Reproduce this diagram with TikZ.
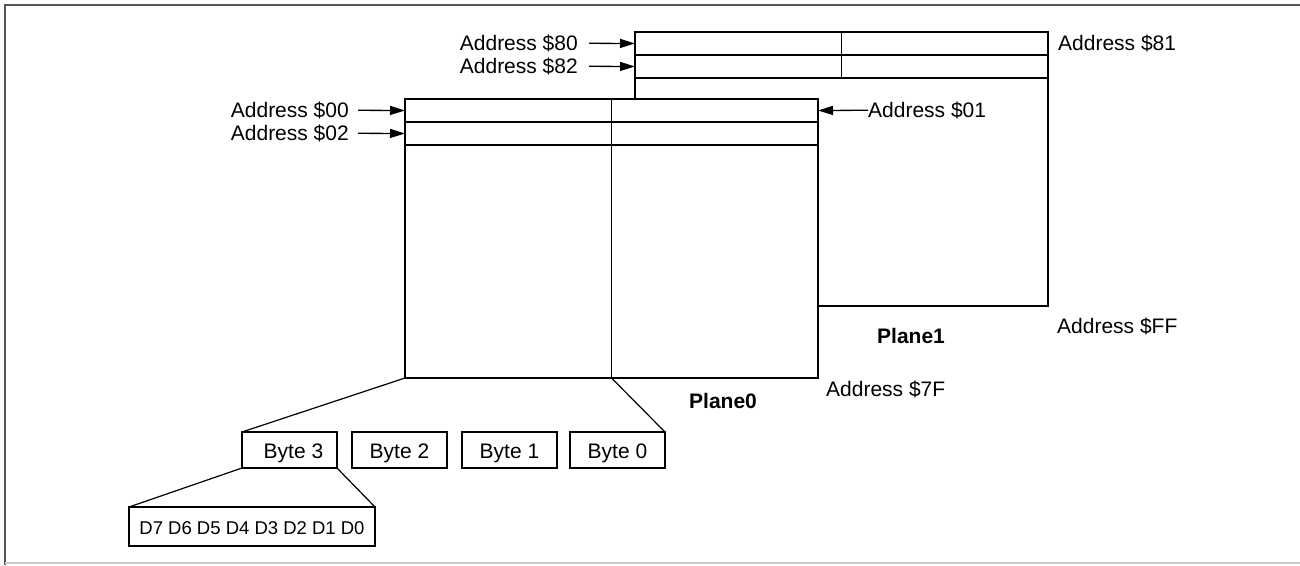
\documentclass[tikz,border=0pt]{standalone}
\usepackage{fontspec}
\setmainfont{Liberation Sans}
\usetikzlibrary{positioning,arrows.meta,calc}
\definecolor{frameGray}{HTML}{555555}
\definecolor{frameLight}{HTML}{CCCCCC}
\def\rowh{23}

\begin{document}
\begin{tikzpicture}[
  x=1pt, y=-1pt,
  font=\fontsize{21}{24}\selectfont,
  plane/.style={draw, line width=2.6pt, fill=white, outer sep=0pt, inner sep=0pt},
  cell/.style={line width=1.2pt},
  addr/.style={inner sep=0pt},
  ptr/.style={-{Triangle[length=15pt,width=9pt]}, line width=1.3pt},
  planename/.style={font=\fontsize{21}{24}\selectfont\bfseries},
  bytebox/.style={draw, line width=2.6pt, outer sep=0pt, minimum width=95pt, minimum height=36pt,
                  text height=17pt, text depth=0pt, font=\fontsize{21}{24}\selectfont},
  bitbox/.style={draw, line width=2.6pt, outer sep=0pt, minimum width=246pt, minimum height=39pt,
                 text height=15pt, text depth=0pt, font=\fontsize{18.5}{22}\selectfont},
  link/.style={line width=1.2pt},
]
\useasboundingbox (0,0) rectangle (1300,565);

% frame
\draw[frameGray, line width=2.5pt] (5,565) -- (5,5) -- (1300,5);
\draw[frameLight, line width=1.5pt] (5,563) -- (1300,563);

% =====================================================================
% PLANE 1 (behind)
% =====================================================================
\node[plane, minimum width=413pt, minimum height=274pt] (p1) at (841.5,169) {};
\draw[cell] ($(p1.north west)+(0,\rowh)$) -- ($(p1.north east)+(0,\rowh)$);
\draw[cell] ($(p1.north west)+(0,2*\rowh)$) -- ($(p1.north east)+(0,2*\rowh)$);
\draw[cell] (p1.north) -- ($(p1.north)+(0,2*\rowh)$);

% =====================================================================
% PLANE 0 (front)
% =====================================================================
\node[plane, minimum width=413pt, minimum height=279pt] (p0) at (611.5,238.5) {};
\draw[cell] ($(p0.north west)+(0,\rowh)$) -- ($(p0.north east)+(0,\rowh)$);
\draw[cell] ($(p0.north west)+(0,2*\rowh)$) -- ($(p0.north east)+(0,2*\rowh)$);
\draw[cell] (p0.north) -- (p0.south);

% row entry points
\coordinate (r80) at ($(p1.north west)+(0,0.5*\rowh)$);
\coordinate (r82) at ($(p1.north west)+(0,1.5*\rowh)$);
\coordinate (r00) at ($(p0.north west)+(0,0.5*\rowh)$);
\coordinate (r02) at ($(p0.north west)+(0,1.5*\rowh)$);
\coordinate (r01) at ($(p0.north east)+(0,0.5*\rowh)$);

% =====================================================================
% ADDRESS LABELS
% =====================================================================
\node[addr, anchor=east] (a80) at (578,43) {Address \$80};
\node[addr, anchor=east] (a82) at (578,66) {Address \$82};
\node[addr, anchor=east] (a00) at (349,110) {Address \$00};
\node[addr, anchor=east] (a02) at (349,133) {Address \$02};
\node[addr, anchor=west] (a01) at (868,110) {Address \$01};
\node[addr, anchor=west] (a81) at (1058,43) {Address \$81};
\node[addr, anchor=west] (aFF) at (1057,326) {Address \$FF};
\node[addr, anchor=west] (a7F) at (826,389) {Address \$7F};

\draw[ptr, shorten <=11pt] (a80) -- (r80);
\draw[ptr, shorten <=11pt] (a82) -- (r82);
\draw[ptr, shorten <=9pt] (a00) -- (r00);
\draw[ptr, shorten <=9pt] (a02) -- (r02);
\draw[ptr] (a01) -- (r01);

\node[planename] (n1) at (911,336) {Plane1};
\node[planename] (n0) at (723,401) {Plane0};

% =====================================================================
% BYTES AND BITS
% =====================================================================
\node[bytebox] (b3) at (289.5,450) {\hspace*{8pt}Byte 3};
\node[bytebox, right=15pt of b3] (b2) {Byte 2};
\node[bytebox, right=15pt of b2] (b1) {Byte 1};
\node[bytebox, right=13pt of b1] (b0) {Byte 0};
\node[bitbox] (bits) at (252,526.5) {D7 D6 D5 D4 D3 D2 D1 D0};

\draw[link] (p0.south west) -- (b3.north west);
\draw[link] (p0.south) -- (b0.north east);
\draw[link] (b3.south west) -- (bits.north west);
\draw[link] (b3.south east) -- (bits.north east);

\end{tikzpicture}
\end{document}
